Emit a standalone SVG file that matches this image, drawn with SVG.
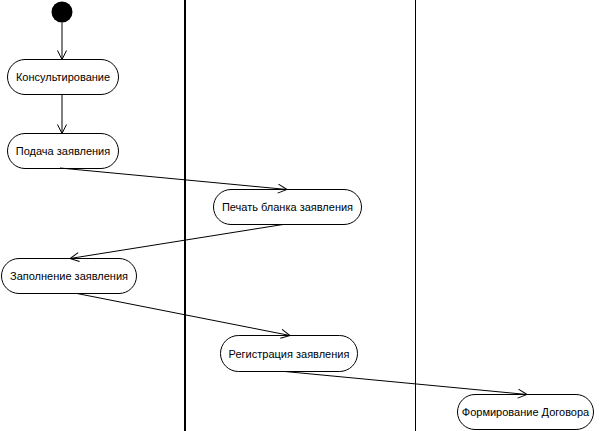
<svg xmlns="http://www.w3.org/2000/svg" width="602" height="431" viewBox="0 0 602 431">
<defs>
<marker id="arr" markerWidth="12" markerHeight="12" refX="10" refY="5" orient="auto" markerUnits="userSpaceOnUse">
<path d="M1,0.5 L10,5 L1,9.5" fill="none" stroke="#000" stroke-width="1"/>
</marker>
</defs>
<style>
.node rect{fill:#fff;stroke:#000;stroke-width:1}
.node text{font-family:"Liberation Sans",Arial,sans-serif;font-size:11px;fill:#000;text-anchor:middle;dominant-baseline:central}
.edge{stroke:#000;stroke-width:1;fill:none;marker-end:url(#arr)}
.lane{stroke:#000}
</style>
<rect width="602" height="431" fill="#fff"/>
<g id="lanes">
<line class="lane" x1="185" y1="0" x2="185" y2="431" stroke-width="2"/>
<line class="lane" x1="415.5" y1="0" x2="415.5" y2="431" stroke-width="1"/>
</g>
<g id="start"><circle cx="62" cy="12" r="10.5" fill="#000"/></g>
<g id="n1" class="node"><rect x="7.5" y="59.5" width="111" height="35" rx="17.5"/><text x="63" y="77">Консультирование</text></g>
<g id="n2" class="node"><rect x="7.5" y="133.5" width="111" height="35" rx="17.5"/><text x="63" y="151">Подача заявления</text></g>
<g id="n3" class="node"><rect x="213.5" y="189.5" width="148" height="35" rx="17.5"/><text x="287.5" y="207">Печать бланка заявления</text></g>
<g id="n4" class="node"><rect x="1.5" y="258.5" width="135" height="35" rx="17.5"/><text x="69" y="276">Заполнение заявления</text></g>
<g id="n5" class="node"><rect x="220.5" y="335.5" width="137" height="36" rx="18"/><text x="289" y="353.5">Регистрация заявления</text></g>
<g id="n6" class="node"><rect x="457.5" y="394.5" width="136" height="35" rx="17.5"/><text x="525.5" y="412">Формирование Договора</text></g>
<g id="connectors">
<line class="edge" x1="62" y1="22.5" x2="62" y2="59.5"/>
<line class="edge" x1="62" y1="94.5" x2="62" y2="133.5"/>
<line class="edge" x1="60" y1="168" x2="287" y2="189.5"/>
<line class="edge" x1="283" y1="224.5" x2="70" y2="258.5"/>
<line class="edge" x1="77" y1="293.5" x2="290" y2="335.5"/>
<line class="edge" x1="285" y1="371.5" x2="527" y2="394.5"/>
</g>
</svg>
